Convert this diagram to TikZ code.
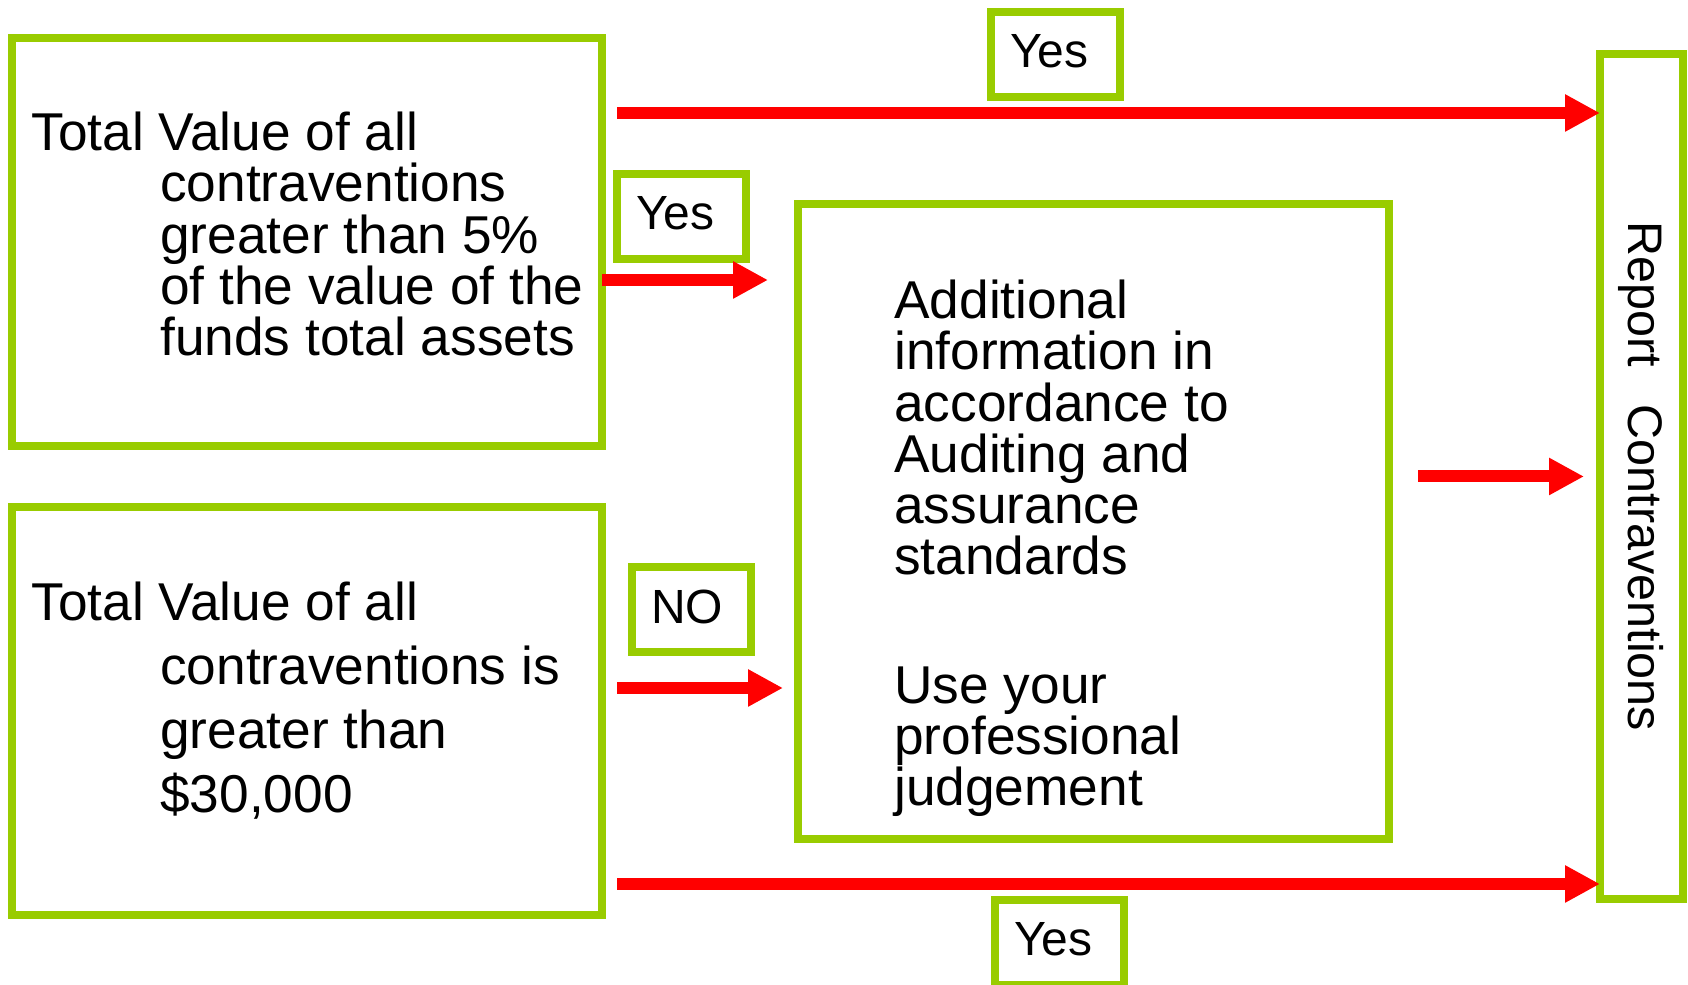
\documentclass[tikz,border=0pt]{standalone}
\usepackage{fontspec}
\setmainfont{Liberation Sans}
\usetikzlibrary{arrows.meta}

\definecolor{boxgreen}{RGB}{153,204,0}
\tikzset{
    green_box/.style={draw=boxgreen, line width=0.16cm, fill=white, inner sep=0pt, outer sep=0pt},
    box_text/.style={anchor=north west, align=left, inner sep=0pt, font=\fontsize{30.3pt}{29.2pt}\selectfont},
    tag_box/.style={green_box, minimum height=1.7cm, inner xsep=0.38cm, align=left, text depth=0.12cm, font=\fontsize{27.3pt}{30pt}\selectfont},
    red_arrow/.style={draw=red, line width=0.24cm, -{Triangle[length=0.7cm, width=0.7cm]}}
}

\begin{document}
\begin{tikzpicture}
        \useasboundingbox (0, 0) rectangle (33.76, 19.7);

        \node (value_pct_box) at (6.14, 14.86) [
            green_box,
            minimum width=11.8cm,
            minimum height=8.16cm
        ] {};
        \path (value_pct_box.north west) + (0.38, -1.47) node[box_text] (value_pct_text) {Total Value of all\\
            \hspace*{2.58cm}contraventions\\
            \hspace*{2.58cm}greater than 5\%\\
            \hspace*{2.58cm}of the value of the\\
            \hspace*{2.58cm}funds total assets};

        \node (value_30k_box) at (6.14, 5.48) [
            green_box,
            minimum width=11.8cm,
            minimum height=8.16cm
        ] {};
        \path (value_30k_box.north west) + (0.38, -1.49) node[box_text, font=\fontsize{30.3pt}{36.4pt}\selectfont] (value_30k_text) {Total Value of all\\
            \hspace*{2.58cm}contraventions is\\
            \hspace*{2.58cm}greater than\\
            \hspace*{2.58cm}\$30,000};

        \node (info_box) at (21.87, 9.27) [
            green_box,
            minimum width=11.82cm,
            minimum height=12.7cm
        ] {};
        \path (info_box.north west) + (1.92, -1.51) node[box_text] (info_text) {Additional\\
            information in\\
            accordance to\\
            Auditing and\\
            assurance\\
            standards\\[1.54cm]
            Use your\\
            professional\\
            judgement};

        \node (report_box) at (32.83, 10.17) [
            green_box,
            minimum width=16.9cm,
            minimum height=1.66cm,
            font=\fontsize{27.6pt}{30pt}\selectfont,
            rotate=-90
        ] {Report\hspace{0.75cm}Contraventions};

        \node (yes_top) at (21.11, 18.61) [tag_box, text width=1.82cm] {Yes};
        \node (yes_pct) at (13.63, 15.37) [tag_box, text width=1.82cm] {Yes};
        \node (no_30k) at (13.83, 7.51) [tag_box, text width=1.62cm] {NO};
        \node (yes_bottom) at (21.19, 0.85) [tag_box, text width=1.82cm] {Yes};

        \path (value_pct_box.north east) + (0.3, -1.5) coordinate (top_from);
        \path (value_pct_box.east) + (0, -0.76) coordinate (pct_from);
        \path (value_30k_box.east) + (0.3, 0.46) coordinate (no_from);
        \path (value_30k_box.south east) + (0.3, 0.62) coordinate (bottom_from);
        \path (info_box.east |- report_box.south) + (0.58, 0) coordinate (info_from);

        \draw[red_arrow] (top_from) -- (top_from -| report_box.south);
        \draw[red_arrow, shorten >=0.6cm] (pct_from) -- (pct_from -| info_box.west);
        \draw[red_arrow, shorten >=0.3cm] (no_from) -- (no_from -| info_box.west);
        \draw[red_arrow] (bottom_from) -- (bottom_from -| report_box.south);
        \draw[red_arrow, shorten >=0.32cm] (info_from) -- (report_box.south);
    \end{tikzpicture}
\end{document}
